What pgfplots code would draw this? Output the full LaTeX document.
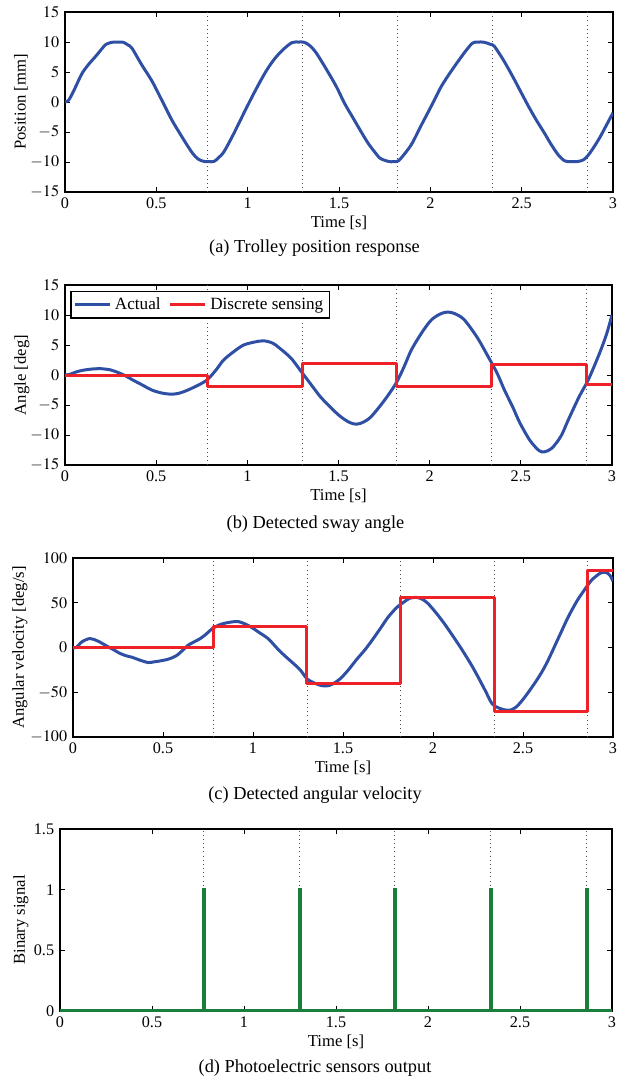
\documentclass[border=0pt]{standalone}
\usepackage{mathptmx}
\usepackage{fontspec}
\setmainfont{Liberation Serif}
\usepackage{pgfplots}
\pgfplotsset{compat=1.18}
\definecolor{mblue}{RGB}{46,79,163}
\definecolor{mred}{RGB}{238,32,40}
\definecolor{mgreen}{RGB}{26,127,60}
\pgfplotsset{
  base/.style={
    scale only axis,
    xmin=0, xmax=3,
    xtick={0,0.5,1,1.5,2,2.5,3},
    xticklabels={0,0.5,1,1.5,2,2.5,3},
    tick align=inside,
    major tick length=3pt,
    tick style={black, line width=0.5pt},
    axis line style={line width=0.7pt},
    xlabel={Time [s]},
    xlabel style={at={([yshift=-18.6pt]axis description cs:0.5,0)}, anchor=center},
    tick label style={font=\fontsize{9.7}{11}\selectfont},
    label style={font=\fontsize{10}{12}\selectfont},
    every axis plot/.append style={line join=round},
  },
  ylab/.style={ylabel style={at={([xshift=-#1]axis description cs:0,0.5)}, anchor=center}},
  vl/.style={black!70, dotted, line width=0.5pt, forget plot},
}
\begin{document}
\begin{tikzpicture}[font=\fontsize{11}{13}\selectfont]
\useasboundingbox (0,0) rectangle (375.6pt,-646.2pt);
% (a)
\begin{axis}[base, at={(39pt,-115.2pt)}, anchor=south west,
  width=328.8pt, height=108pt,
  ymin=-15, ymax=15, ytick={-15,-10,-5,0,5,10,15},
  ylabel={Position [mm]}, ylab=26.4pt]
\addplot[vl] coordinates {(0.78,-15) (0.78,15)};
\addplot[vl] coordinates {(1.30,-15) (1.30,15)};
\addplot[vl] coordinates {(1.82,-15) (1.82,15)};
\addplot[vl] coordinates {(2.34,-15) (2.34,15)};
\addplot[vl] coordinates {(2.86,-15) (2.86,15)};
\addplot[mblue, line width=1.8pt, smooth] coordinates {
(0,0) (0.02,0.3) (0.05,2.0) (0.092,4.7) (0.13,6.3) (0.169,7.65) (0.2,8.8) (0.224,9.6) (0.257,9.95) (0.29,10) (0.32,9.95) (0.345,9.5) (0.366,9.0) (0.42,6.2) (0.476,3.5) (0.53,0.3) (0.585,-3) (0.63,-5.3) (0.673,-7.4) (0.70,-8.6) (0.728,-9.5) (0.76,-9.9) (0.79,-9.95) (0.816,-9.9) (0.84,-9.3) (0.87,-8.3) (0.92,-5.5) (0.98,-1.8) (1.04,1.8) (1.1,5.1) (1.15,7.3) (1.2,8.9) (1.243,9.9) (1.28,10) (1.31,9.95) (1.34,9.4) (1.375,8.2) (1.43,5.5) (1.485,2.6) (1.53,-0.2) (1.572,-2.4) (1.62,-4.9) (1.66,-6.9) (1.70,-8.5) (1.726,-9.4) (1.77,-9.9) (1.80,-9.95) (1.825,-9.8) (1.86,-8.6) (1.9,-6.9) (1.95,-3.9) (2.01,-0.4) (2.06,2.6) (2.12,5.4) (2.186,8.2) (2.23,9.8) (2.26,10) (2.296,9.95) (2.33,9.6) (2.35,9.3) (2.40,7.0) (2.45,4.3) (2.49,2.0) (2.537,-0.7) (2.58,-3.0) (2.625,-5.2) (2.66,-7.0) (2.70,-8.8) (2.735,-9.8) (2.77,-9.95) (2.81,-9.9) (2.84,-9.6) (2.866,-8.8) (2.90,-7.3) (2.93,-5.8) (2.965,-3.8) (3.0,-1.8)};
\end{axis}
\node at (188.7pt,-148.8pt) {(a) Trolley position response};
% (b)
\begin{axis}[base, at={(39pt,-279pt)}, anchor=south west,
  width=328.2pt, height=108pt,
  ymin=-15, ymax=15, ytick={-15,-10,-5,0,5,10,15},
  ylabel={Angle [deg]}, ylab=25.8pt,
  legend columns=2,
  legend style={at={(0.01,0.965)}, anchor=north west, draw=black, line width=0.7pt,
    font=\fontsize{10.3}{12}\selectfont, inner sep=1.5pt,
    /tikz/every even column/.append style={column sep=3pt}},
  legend image code/.code={\draw[#1] (0pt,0pt) -- (21pt,0pt);}]
\addplot[vl] coordinates {(0.78,-15) (0.78,15)};
\addplot[vl] coordinates {(1.30,-15) (1.30,15)};
\addplot[vl] coordinates {(1.82,-15) (1.82,15)};
\addplot[vl] coordinates {(2.34,-15) (2.34,15)};
\addplot[vl] coordinates {(2.86,-15) (2.86,15)};
\addplot[mblue, line width=1.8pt, smooth] coordinates {
(0,0) (0.026,0.1) (0.06,0.5) (0.1,0.8) (0.15,1.0) (0.2,1.05) (0.25,0.85) (0.28,0.55) (0.33,-0.1) (0.37,-0.8) (0.42,-1.6) (0.476,-2.5) (0.53,-3.0) (0.586,-3.2) (0.63,-3.0) (0.674,-2.5) (0.73,-1.7) (0.78,-0.8) (0.83,0.9) (0.87,2.5) (0.93,4.0) (0.98,5.0) (1.04,5.5) (1.09,5.7) (1.14,5.3) (1.18,4.4) (1.24,2.8) (1.29,0.8) (1.35,-1.6) (1.4,-3.6) (1.46,-5.5) (1.51,-6.9) (1.56,-7.9) (1.6,-8.2) (1.64,-7.8) (1.68,-6.9) (1.75,-4.3) (1.815,-1.4) (1.86,1.4) (1.9,4.2) (1.96,7.2) (2.01,9.2) (2.06,10.2) (2.1,10.5) (2.14,10.2) (2.19,9.2) (2.26,6.3) (2.32,3.1) (2.37,0.3) (2.41,-2.5) (2.455,-5.3) (2.495,-8) (2.55,-10.9) (2.6,-12.6) (2.63,-12.8) (2.67,-12.2) (2.72,-10.2) (2.76,-7.5) (2.82,-3.6) (2.87,-0.8) (2.93,3.5) (2.97,6.8) (3.0,10)};
\addlegendentry{Actual}
\addplot[mred, line width=1.8pt] coordinates {
(0,0) (0.78,0) (0.78,-1.9) (1.30,-1.9) (1.30,2.0) (1.82,2.0) (1.82,-1.9) (2.34,-1.9) (2.34,1.8) (2.86,1.8) (2.86,-1.6) (3,-1.6)};
\addlegendentry{Discrete sensing}
\end{axis}
\node at (189.3pt,-314.4pt) {(b) Detected sway angle};
% (c)
\begin{axis}[base, at={(43.8pt,-442.2pt)}, anchor=south west,
  width=324pt, height=107.4pt,
  ymin=-100, ymax=100, ytick={-100,-50,0,50,100},
  ylabel={Angular velocity [deg/s]}, ylab=31.8pt]
\addplot[vl] coordinates {(0.78,-100) (0.78,100)};
\addplot[vl] coordinates {(1.30,-100) (1.30,100)};
\addplot[vl] coordinates {(1.82,-100) (1.82,100)};
\addplot[vl] coordinates {(2.34,-100) (2.34,100)};
\addplot[vl] coordinates {(2.86,-100) (2.86,100)};
\addplot[mblue, line width=1.8pt, smooth] coordinates {
(0,0) (0.018,0) (0.05,6.4) (0.095,10) (0.14,7) (0.196,0.7) (0.23,-3) (0.262,-6.7) (0.3,-9.5) (0.33,-11) (0.37,-14) (0.418,-16.8) (0.45,-16) (0.484,-15) (0.53,-13) (0.573,-9.3) (0.61,-3) (0.64,2.6) (0.67,6) (0.707,10) (0.74,15) (0.773,21) (0.81,25) (0.84,27) (0.88,28.5) (0.918,29) (0.96,26) (0.996,22) (1.04,16) (1.084,10) (1.13,0) (1.173,-8.6) (1.22,-17) (1.262,-25) (1.30,-35) (1.329,-38.5) (1.37,-42) (1.407,-43) (1.44,-41) (1.484,-35) (1.53,-25) (1.573,-14) (1.62,-3) (1.662,8.2) (1.71,22) (1.751,34) (1.8,45) (1.84,51) (1.87,55) (1.907,56) (1.94,54) (1.973,49) (2.02,38) (2.062,27) (2.11,13) (2.151,0.7) (2.2,-15) (2.24,-29) (2.29,-48) (2.329,-63) (2.37,-68) (2.407,-70) (2.43,-70) (2.462,-66.5) (2.5,-58) (2.551,-44) (2.6,-29) (2.64,-14) (2.7,12) (2.751,34) (2.8,52) (2.84,64) (2.88,75) (2.929,83) (2.962,84) (2.985,80) (3.0,74)};
\addplot[mred, line width=1.8pt] coordinates {
(0,0) (0.78,0) (0.78,23) (1.30,23) (1.30,-40) (1.82,-40) (1.82,56) (2.34,56) (2.34,-72) (2.86,-72) (2.86,86) (3,86)};
\end{axis}
\node at (189pt,-477pt) {(c) Detected angular velocity};
% (d)
\begin{axis}[base, at={(36pt,-606.6pt)}, anchor=south west,
  width=331.2pt, height=109.2pt, clip=false,
  ymin=0, ymax=1.5, ytick={0,0.5,1,1.5}, yticklabels={0,0.5,1,1.5},
  ylabel={Binary signal}, ylab=23.4pt]
\addplot[vl] coordinates {(0.78,1) (0.78,1.5)};
\addplot[vl] coordinates {(1.30,1) (1.30,1.5)};
\addplot[vl] coordinates {(1.82,1) (1.82,1.5)};
\addplot[vl] coordinates {(2.34,1) (2.34,1.5)};
\addplot[vl] coordinates {(2.86,1) (2.86,1.5)};
\addplot[mgreen, line width=1.8pt, line join=miter] coordinates {
(0,0.008) (0.78,0.008) (0.78,1) (0.785,1) (0.785,0.008) (1.30,0.008) (1.30,1) (1.305,1) (1.305,0.008) (1.82,0.008) (1.82,1) (1.825,1) (1.825,0.008) (2.34,0.008) (2.34,1) (2.345,1) (2.345,0.008) (2.86,0.008) (2.86,1) (2.865,1) (2.865,0.008) (3,0.008)};
\end{axis}
\node at (189pt,-640.8pt) {(d) Photoelectric sensors output};
\end{tikzpicture}
\end{document}
